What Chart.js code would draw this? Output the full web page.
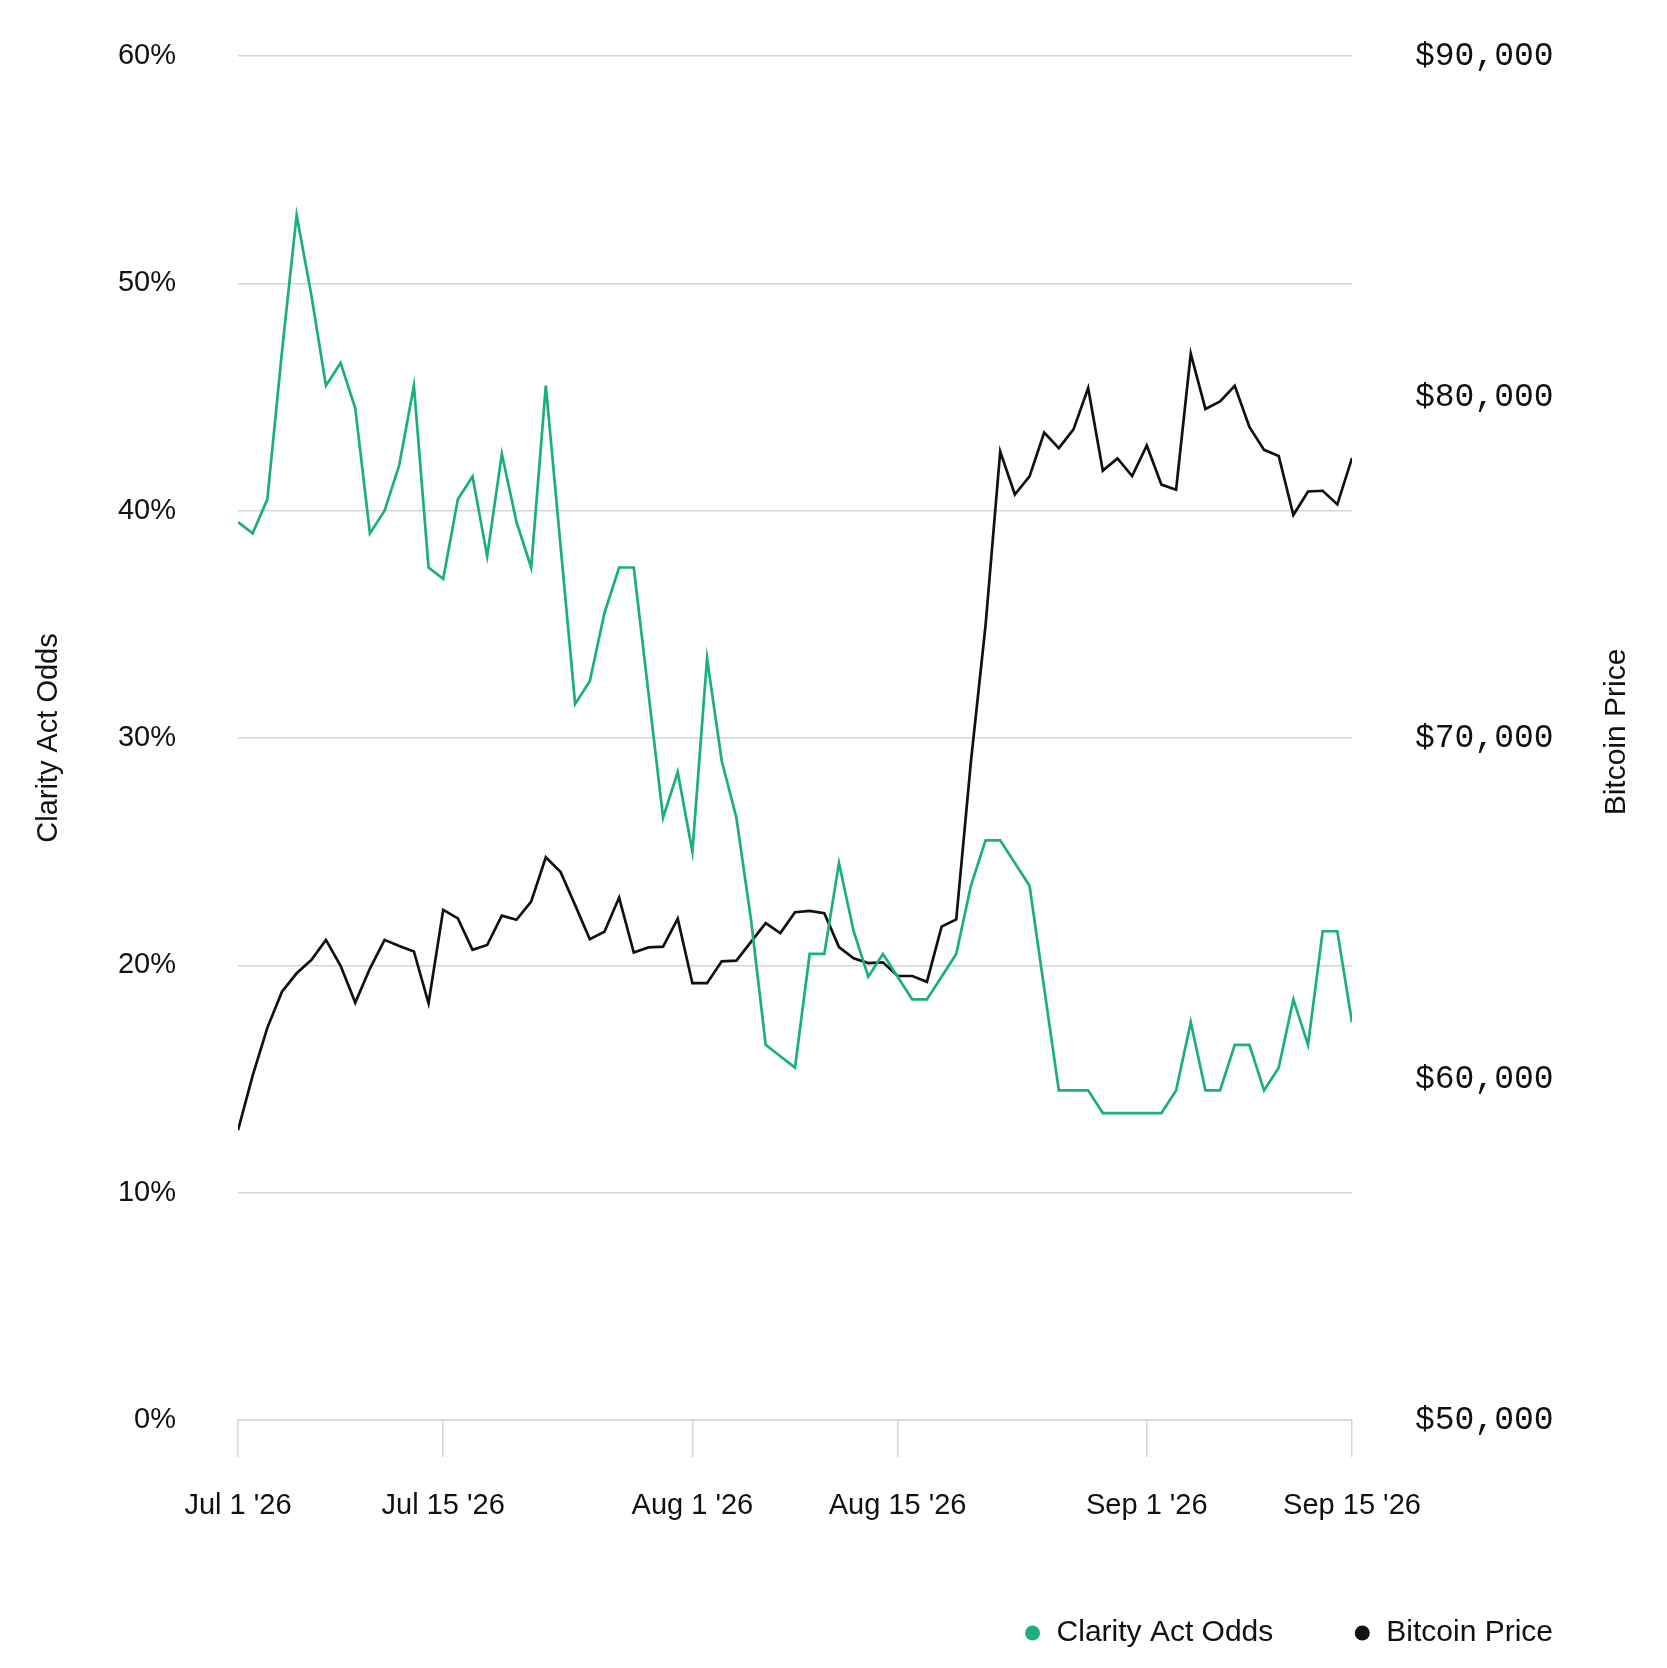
<!DOCTYPE html>
<html>
<head>
<meta charset="utf-8">
<script src="https://cdn.jsdelivr.net/npm/chart.js@4.4.1/dist/chart.umd.min.js"></script>
<style>
  html, body { margin: 0; padding: 0; background: #fff; }
  canvas { display: block; }
</style>
</head>
<body>
<canvas id="chart" width="1667" height="1668"></canvas>
<script>
// Day index 0 = Jul 1 '26, 76 = Sep 15 '26 (one value per day)
const tickDays = [0, 14, 31, 45, 62, 76];
const tickLabels = ["Jul 1 '26", "Jul 15 '26", "Aug 1 '26", "Aug 15 '26", "Sep 1 '26", "Sep 15 '26"];

// Clarity Act odds, percent
const clarityOdds = [
    39.5, 39, 40.5, 47, 53, 49.5, 45.5, 46.5, 44.5, 39,
    40, 42, 45.5, 37.5, 37, 40.5, 41.5, 38, 42.5, 39.5,
    37.5, 45.5, 38.5, 31.5, 32.5, 35.5, 37.5, 37.5, 32, 26.5,
    28.5, 25, 33.5, 29, 26.5, 22, 16.5, 16, 15.5, 20.5,
    20.5, 24.5, 21.5, 19.5, 20.5, 19.5, 18.5, 18.5, 19.5, 20.5,
    23.5, 25.5, 25.5, 24.5, 23.5, 19, 14.5, 14.5, 14.5, 13.5,
    13.5, 13.5, 13.5, 13.5, 14.5, 17.5, 14.5, 14.5, 16.5, 16.5,
    14.5, 15.5, 18.5, 16.5, 21.5, 21.5, 17.5
];

// Bitcoin price, USD
const bitcoinPrice = [
    58500, 60100, 61500, 62560, 63100, 63490, 64080, 63320, 62240, 63240,
    64080, 63900, 63740, 62220, 64960, 64710, 63790, 63930, 64790, 64670,
    65200, 66500, 66080, 65100, 64100, 64320, 65320, 63710, 63860, 63880,
    64700, 62810, 62810, 63450, 63470, 64020, 64570, 64280, 64890, 64930,
    64860, 63870, 63540, 63400, 63420, 63020, 63020, 62850, 64470, 64680,
    69300, 73300, 78400, 77140, 77670, 78960, 78500, 79050, 80260, 77840,
    78200, 77680, 78580, 77430, 77280, 81270, 79650, 79870, 80330, 79120,
    78450, 78270, 76540, 77230, 77250, 76850, 78210
];

const seriesNames = ['Clarity Act Odds', 'Bitcoin Price'];
const greenColor = '#1bb077';
const blackColor = '#111111';
const gridColor = '#d6d6d6';
const textColor = '#111111';
const sansFont = '"Liberation Sans", Arial, sans-serif';
const monoFont = '"Liberation Mono", "DejaVu Sans Mono", monospace';

// tick padding would otherwise push the chart area down
function fixVerticalPadding(scale, width) {
    scale.width = width;
    scale.paddingTop = 20;
    scale.paddingBottom = 20;
}

// Right axis title and the legend are drawn here
const extrasPlugin = {
    id: 'extras',
    afterDraw(chart) {
        const ctx = chart.ctx;
        const area = chart.chartArea;
        const right = chart.scales.yPrice;

        ctx.save();
        ctx.fillStyle = textColor;
        ctx.font = '30px ' + sansFont;
        ctx.textAlign = 'center';
        ctx.textBaseline = 'middle';
        ctx.translate(right.left + 265, (area.top + area.bottom) / 2 - 6);
        ctx.rotate(-Math.PI / 2);
        ctx.fillText('Bitcoin Price', 0, 0);
        ctx.restore();

        // legend, right aligned
        ctx.save();
        ctx.font = '30px ' + sansFont;
        ctx.textBaseline = 'middle';
        ctx.textAlign = 'left';
        const y = 1633;
        let x = chart.width - 114;
        for (let i = chart.data.datasets.length - 1; i >= 0; i--) {
            const ds = chart.data.datasets[i];
            const w = ctx.measureText(ds.label).width;
            const textX = x - w;
            ctx.fillStyle = textColor;
            ctx.fillText(ds.label, textX, y);
            ctx.fillStyle = ds.borderColor;
            ctx.beginPath();
            ctx.arc(textX - 24, y, 7.5, 0, Math.PI * 2);
            ctx.fill();
            x = textX - 24 - 89;
        }
        ctx.restore();
    }
};

function initializeChart() {
    const ctx = document.getElementById('chart').getContext('2d');
    new Chart(ctx, {
        type: 'line',
        data: {
            datasets: [{
                label: seriesNames[0],
                data: clarityOdds.map((v, i) => ({ x: i, y: v })),
                borderColor: greenColor,
                backgroundColor: greenColor,
                borderWidth: 2.7,
                pointRadius: 0,
                tension: 0,
                yAxisID: 'yOdds'
            }, {
                label: seriesNames[1],
                data: bitcoinPrice.map((v, i) => ({ x: i, y: v })),
                borderColor: blackColor,
                backgroundColor: blackColor,
                borderWidth: 2.7,
                pointRadius: 0,
                tension: 0,
                yAxisID: 'yPrice'
            }]
        },
        options: {
            responsive: false,
            animation: false,
            devicePixelRatio: 1,
            layout: { padding: { top: 56, left: 0, right: 0, bottom: 0 } },
            plugins: {
                legend: { display: false },
                tooltip: { enabled: false }
            },
            scales: {
                x: {
                    type: 'linear',
                    min: 0,
                    max: 76,
                    afterBuildTicks: (scale) => {
                        scale.ticks = tickDays.map(d => ({ value: d }));
                    },
                    afterFit: (scale) => { scale.height = 248; },
                    grid: {
                        drawOnChartArea: false,
                        drawTicks: true,
                        tickLength: 37,
                        color: gridColor,
                        lineWidth: 1.5
                    },
                    border: { display: true, color: gridColor, width: 1.5 },
                    ticks: {
                        autoSkip: false,
                        maxRotation: 0,
                        padding: 32,
                        color: textColor,
                        font: { family: sansFont, size: 29 },
                        callback: (value) => tickLabels[tickDays.indexOf(value)]
                    }
                },
                yOdds: {
                    position: 'left',
                    min: 0,
                    max: 60,
                    afterFit: (scale) => fixVerticalPadding(scale, 238),
                    grid: { color: gridColor, lineWidth: 1.5, drawTicks: false },
                    border: { display: false },
                    ticks: {
                        stepSize: 10,
                        padding: 62,
                        color: textColor,
                        font: { family: sansFont, size: 29 },
                        callback: (v) => v + '%'
                    },
                    title: {
                        display: true,
                        text: seriesNames[0],
                        color: textColor,
                        font: { family: sansFont, size: 29 },
                        padding: { top: 32, bottom: 0 }
                    }
                },
                yPrice: {
                    position: 'right',
                    min: 50000,
                    max: 90000,
                    afterFit: (scale) => fixVerticalPadding(scale, 315),
                    grid: { display: false, drawTicks: false },
                    border: { display: false },
                    ticks: {
                        stepSize: 10000,
                        padding: 63,
                        color: textColor,
                        font: { family: monoFont, size: 33 },
                        callback: (v) => '$' + v.toLocaleString('en-US')
                    }
                }
            }
        },
        plugins: [extrasPlugin]
    });
}

initializeChart();
</script>
</body>
</html>
